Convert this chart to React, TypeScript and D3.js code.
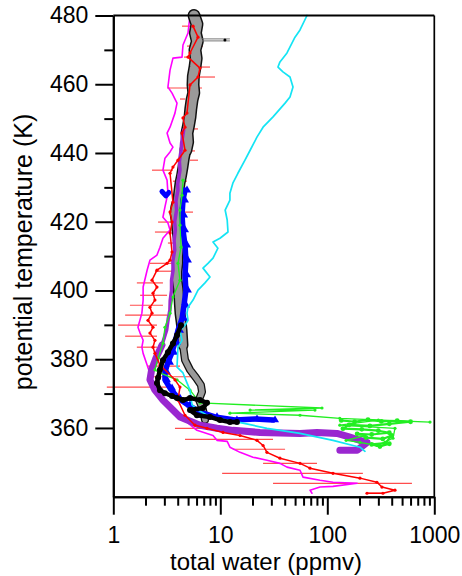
import * as d3 from "d3";
import { useEffect, useRef } from "react";

type Pt = [number, number]; // [total water ppmv, potential temperature K]
type Bar = [number, number, number]; // [low ppmv, high ppmv, K]

const xTickMajor = [1, 10, 100, 1000];
const xTickMinor = [2, 3, 4, 5, 6, 7, 8, 9, 20, 30, 40, 50, 60, 70, 80, 90, 200, 300, 400, 500, 600, 700, 800, 900];
const yTickMajor = [360, 380, 400, 420, 440, 460, 480];
const yTickMinor = [370, 390, 410, 430, 450, 470];

const magenta: Pt[] = [
  [5.21, 480], [4.99, 474.9], [4.48, 471.4], [4.39, 467.9], [3.61, 467.6], [3.39, 464.1],
  [3.24, 459.2], [3.54, 457.4], [3.94, 454.5], [3.77, 451.6], [3.39, 447.5], [3.18, 445.8],
  [3.39, 442.9], [3.61, 441.7], [3.39, 440.3], [3.04, 438.5], [2.91, 435.0], [3.18, 432.1],
  [3.24, 428.3], [3.04, 424.3], [2.91, 421.3], [3.24, 419.6], [3.39, 417.6], [2.91, 415.2],
  [2.73, 412.6], [2.56, 410.3], [2.2, 408.8], [2.07, 405.9], [1.9, 401.0], [1.9, 397.2],
  [1.85, 393.4], [1.7, 389.3], [1.78, 387.6], [1.9, 385.5], [1.85, 383.5], [1.9, 381.7],
  [2.07, 378.3], [2.3, 374.0], [2.73, 369.6], [3.77, 365.2], [4.68, 363.2], [4.99, 361.4],
  [6.05, 359.3], [8.55, 357.8], [9.31, 356.4], [11.6, 356.1], [12.3, 354.4], [15.3, 352.9],
  [20.2, 351.5], [27.3, 350.6], [36.1, 349.7], [42, 348.6], [55.6, 347.7], [59.3, 345.7],
  [85.5, 344.8], [113, 344.2], [190, 343.9], [113, 343.0], [85.5, 342.8], [68.9, 341.9], [71.9, 341.0],
];

const red: Pt[] = [
  [5.56, 476.9], [6.19, 473.7], [5.21, 469.1], [4.99, 467.9], [6.46, 464.7], [6.19, 462.1],
  [5.21, 459.8], [4.88, 451.6], [4.48, 450.2], [4.68, 447.5], [4.39, 445.8], [4.68, 440.8],
  [4.02, 437.9], [3.61, 435.9], [3.39, 434.1], [3.61, 425.7], [3.39, 422.8], [3.54, 419.9],
  [3.39, 416.7], [3.54, 411.2], [3.39, 408.8], [3.18, 407.9], [2.56, 405.9], [2.3, 403.0],
  [2.56, 401.0], [2.35, 399.2], [2.45, 397.2], [2.2, 395.1], [2.3, 393.4], [2.11, 391.3],
  [2.35, 389.3], [2.2, 387.6], [2.45, 385.5], [2.35, 383.5], [2.45, 381.7], [2.73, 378.3],
  [3.77, 374.0], [4.2, 371.9], [4.02, 368.1], [4.68, 363.7], [5.8, 360.8], [7.51, 359.9],
  [10.6, 358.7], [15.3, 357.8], [22, 356.4], [25.1, 354.9], [27.3, 352.9], [36.1, 351.2],
  [55.6, 349.7], [68.9, 348.3], [113, 346.8], [202, 345.4], [291, 344.2], [324, 342.8],
  [429, 341.9], [331, 341.0], [235, 341.0],
];

const redErrorBars: Bar[] = [
  [4.39, 5.56, 476.9], [4.88, 6.89, 471.1], [4.58, 5.8, 467.9], [6.46, 8.01, 465.0],
  [5.21, 8.92, 462.1], [3.18, 6.75, 458.9], [4.2, 4.68, 455.7], [4.39, 6.19, 447.0],
  [4.99, 5.8, 440.6], [5.21, 6.19, 437.9], [2.3, 3.61, 435.0], [3.61, 4.88, 431.8],
  [4.2, 5.56, 422.8], [2.62, 3.77, 419.9], [2.45, 3.39, 417.0], [3.24, 4.02, 413.8],
  [2.2, 3.94, 407.9], [2.45, 3.61, 405.6], [1.66, 2.91, 402.2], [1.78, 3.18, 398.6],
  [1.43, 2.91, 395.7], [1.29, 3.18, 392.8], [1.11, 2.56, 389.9], [1.29, 2.56, 386.7],
  [1.66, 2.56, 383.5], [2.07, 4.2, 378.0], [2.2, 6.46, 374.9], [0.87, 3.61, 371.9],
  [3.77, 8.55, 359.9], [4.68, 31.1, 356.7], [13.1, 40.3, 353.8], [25.1, 80.1, 349.7],
  [10.4, 215, 346.8], [31.1, 618, 343.9], [235, 331, 341.0],
];

const cyan: Pt[] = [
  [64.6, 480], [55.6, 475.8], [49.9, 473.7], [42, 469.1], [36.1, 466.5], [34.6, 465],
  [38.5, 463.6], [44.8, 462.1], [47.8, 459.2], [44.8, 456.3], [40.3, 454.5], [31.1, 450.5],
  [25.1, 447.5], [22, 444.6], [19, 440.8], [17, 437.9], [14.6, 434.1], [13.1, 431.2],
  [12.3, 428.3], [12.3, 426.3], [11.1, 423.4], [11.6, 420.5], [11.8, 417], [9.93, 415.2],
  [8.55, 414.1], [9.5, 412.3], [8.55, 409.4], [7.67, 407.9], [6.89, 406.5], [8.01, 403.9],
  [7.19, 402.2], [6.19, 400.1], [5.56, 397.2], [4.99, 395.1], [4.88, 393.4], [4.99, 391.3],
  [4.68, 389.9], [4.2, 388.4], [4.39, 385.5], [4.02, 383.5], [3.94, 377.7], [4.48, 376],
  [4.88, 373.1], [5.21, 371], [5.44, 366.7], [6.19, 365.2], [8.01, 363.2], [11.6, 362.3],
  [16.3, 361.4], [27.3, 359.9], [55.6, 358.4], [113, 356.4], [202, 354.4], [225, 353.2],
];

const grayTop: Pt[] = [
  [5.68, 480], [6.05, 477.5], [5.85, 474.9], [6.1, 472.5], [5.8, 470], [5.95, 467.5],
  [5.8, 465], [5.6, 462.3], [5.56, 459.8], [5.65, 457.5], [5.44, 455.4], [5.3, 452.8],
  [5.21, 450.5], [5.05, 448], [4.88, 445.8], [4.95, 443.2], [4.77, 440.8],
];
const grayMid: Pt[] = [
  [4.77, 440.8], [4.6, 438.3], [4.48, 435.9], [4.35, 433.5], [4.2, 431.2], [4.1, 428.7],
  [4.02, 426.3], [3.85, 424.4], [3.77, 422.5], [3.88, 420], [3.94, 417.6], [4.05, 415],
  [4.11, 412.6], [4.02, 410.2], [4.02, 408], [3.94, 405.5], [3.94, 403], [4.05, 400.5],
  [4.11, 398.1], [4.15, 395.8], [4.2, 393.4], [4.3, 391], [4.39, 388.5], [4.48, 384.1],
];
const grayLower: Pt[] = [
  [4.48, 384.1], [4.68, 379.8], [5.21, 376.9], [5.93, 374.6], [6.59, 372.5], [6.75, 370.5],
  [6.32, 368.2], [6.89, 365.3], [7.19, 362.4],
];
const grayArrow: Bar[] = [[6.75, 12.3, 472.9]];

const blue: Pt[] = [
  [4.68, 429.2], [4.48, 426.3], [4.39, 421.9], [4.48, 417.6], [4.68, 413.2], [4.77, 408.8],
  [4.68, 404.5], [4.77, 400.1], [4.58, 395.7], [4.39, 391.9], [4.02, 388.4], [3.77, 384.9],
  [3.54, 382], [3.24, 379.1], [3.04, 376.2], [3.04, 374], [3.39, 371.6], [4.02, 368.7],
  [4.99, 366.7], [6.46, 364.6], [8.92, 363.2], [13.7, 362.3], [21.1, 362.6], [31.1, 362.3],
];
const blueBlob: Pt[] = [[2.85, 428.8], [3.1, 427.5], [3.3, 428.5]];

const purpleUpper: Pt[] = [
  [4.55, 446.7], [4.35, 443], [4.3, 440.8], [4.15, 437.5], [4.2, 435], [4.0, 431],
  [4.02, 429.2], [3.85, 426], [3.9, 423.4], [3.75, 420], [3.8, 417.6], [3.7, 414.5],
  [3.75, 411.8], [3.6, 408.5], [3.62, 405.9], [3.5, 403], [3.5, 400.1], [3.4, 397],
  [3.38, 394.3], [3.25, 391.5], [3.15, 388.4], [2.85, 384.1],
];
const purpleLower: Pt[] = [
  [2.85, 384.1], [2.5, 380.3], [2.28, 376.9], [2.2, 374], [2.45, 371], [2.91, 368.1],
  [3.61, 365.2], [4.2, 363.2], [6.46, 360.8], [9.31, 359.9], [13.1, 359.3], [23.5, 358.7],
  [55.6, 358.4], [80.1, 358.7], [123, 358.4], [163, 357.3], [202, 356.4], [235, 355.8],
  [190, 353.5], [131, 353.5],
];

const green: Pt[] = [
  [4.48, 432.1], [4.39, 427.7], [4.2, 423.4], [4.2, 419], [4.3, 412.6], [4.02, 407.9],
  [4.2, 403], [3.61, 398.1], [3.39, 393.4], [3.04, 389.3], [2.91, 384.6], [2.62, 380.3],
  [2.45, 376.9], [2.73, 376], [3.94, 374], [5.21, 371], [6.46, 367.3], [89.2, 365.8],
  [19, 365.2], [76.7, 365.2], [12.3, 364.3], [55.6, 363.7], [131, 362.8], [912, 361.7],
  [300, 362.3], [131, 360.8], [429, 359.9], [411, 357], [291, 354.9], [202, 355.8],
  [150, 356.4], [225, 357.8],
];
const greenCluster: Pt[] = [
  [135, 362.2], [180, 361.8], [240, 362.4], [320, 361.9], [450, 362.1], [600, 361.8],
  [380, 361.2], [250, 360.6], [160, 360.9], [140, 359.8], [210, 359.6], [300, 359.2],
  [380, 358.6], [260, 358.1], [190, 358.3], [230, 357.2], [330, 356.8], [400, 357.8],
  [350, 355.6], [260, 355.2], [310, 354.6], [380, 355.4],
];

const black: Pt[] = [
  [4.3, 389.9], [3.94, 387], [3.61, 384.6], [3.24, 382], [2.91, 379.7], [2.73, 376.9],
  [2.62, 374.6], [2.56, 373.1], [2.73, 371], [3.04, 370.1], [3.54, 369.3], [3.94, 368.7],
  [4.48, 368.1], [5.21, 368.7], [6.46, 368.1], [7.51, 367.3], [6.89, 365.8], [5.21, 365.2],
  [6.05, 363.7], [8.01, 363.2], [9.93, 362.3], [12.3, 361.7], [14.3, 361.7],
];

const App = () => {
  const width = 462;
  const height = 576;
  const svgRef = useRef<SVGSVGElement>(null);

  useEffect(() => {
    if (!svgRef.current) return;
    const svg = d3.select(svgRef.current);
    svg.selectAll("*").remove();

    const left = 113.3;
    const right = 434.3;
    const top = 15.5;
    const bottom = 496.7;
    const font = "'Liberation Sans', Arial, sans-serif";

    const x = d3.scaleLog().domain([1, 1000]).range([left, right]);
    const y = d3.scaleLinear().domain([340, 480]).range([bottom, top]);
    const line = d3
      .line<Pt>()
      .x((d) => x(d[0]))
      .y((d) => y(d[1]));

    const plot = svg.append("g");

    const path = (data: Pt[], color: string, w: number) =>
      plot
        .append("path")
        .datum(data)
        .attr("d", line)
        .attr("fill", "none")
        .attr("stroke", color)
        .attr("stroke-width", w)
        .attr("stroke-linejoin", "round")
        .attr("stroke-linecap", "round");

    const dots = (data: Pt[], color: string, r: number) =>
      plot
        .append("g")
        .selectAll("circle")
        .data(data)
        .join("circle")
        .attr("cx", (d) => x(d[0]))
        .attr("cy", (d) => y(d[1]))
        .attr("r", r)
        .attr("fill", color);

    // red error bars
    plot
      .append("g")
      .selectAll("line")
      .data(redErrorBars)
      .join("line")
      .attr("x1", (d) => x(d[0]))
      .attr("x2", (d) => x(d[1]))
      .attr("y1", (d) => y(d[2]))
      .attr("y2", (d) => y(d[2]))
      .attr("stroke", "#ff4d4d")
      .attr("stroke-width", 1.2);

    path(magenta, "#ff00ff", 1.6);

    // gray band with black edge
    path(grayTop, "#111", 13);
    path(grayMid, "#111", 11);
    path(grayLower, "#111", 8);
    path(grayTop, "#9a9a9a", 10);
    path(grayMid, "#9a9a9a", 8);
    path(grayLower, "#9a9a9a", 5.5);

    path(purpleUpper, "#9a27d0", 3.5);
    path(purpleLower, "#9a27d0", 7);

    path(blue, "#0000ff", 5.5);
    path(blueBlob, "#0000ff", 5);
    plot
      .append("g")
      .selectAll("path")
      .data(blue)
      .join("path")
      .attr("transform", (d) => `translate(${x(d[0]) + 2},${y(d[1])})`)
      .attr("d", d3.symbol(d3.symbolTriangle, 28))
      .attr("fill", "#0000ff");

    path(green, "#22ee22", 1.3);
    path(greenCluster, "#22ee22", 2.2);
    dots(green, "#22ee22", 1.6);
    dots(greenCluster, "#22ee22", 2.4);

    path(cyan, "#14e4f4", 1.7);

    path(red, "#ff0000", 1.5);
    dots(red, "#ff0000", 1.6);

    path(black, "#000", 4.5);
    dots(black, "#000", 3);

    // gray arrow bar near the top
    const ga = plot.append("g").selectAll("g").data(grayArrow).join("g");
    [-1, 1].forEach((o) =>
      ga
        .append("line")
        .attr("x1", (d) => x(d[0]))
        .attr("x2", (d) => x(d[1]))
        .attr("y1", (d) => y(d[2]) + o)
        .attr("y2", (d) => y(d[2]) + o)
        .attr("stroke", "#777")
        .attr("stroke-width", 1)
    );
    ga.append("circle")
      .attr("cx", (d) => x(d[1]) - 5)
      .attr("cy", (d) => y(d[2]))
      .attr("r", 1.5)
      .attr("fill", "#000");

    // axes
    const axes = svg.append("g");
    const yMajor = axes
      .append("g")
      .attr("transform", `translate(${left},0)`)
      .call(d3.axisLeft(y).tickValues(yTickMajor).tickSize(18).tickSizeOuter(0).tickPadding(7).tickFormat(d3.format("d")));
    axes
      .append("g")
      .attr("transform", `translate(${left},0)`)
      .call(d3.axisLeft(y).tickValues(yTickMinor).tickSize(9).tickSizeOuter(0).tickFormat(() => ""));
    const xMajor = axes
      .append("g")
      .attr("transform", `translate(0,${bottom})`)
      .call(d3.axisBottom(x).tickValues(xTickMajor).tickSize(18).tickSizeOuter(0).tickPadding(12).tickFormat(d3.format("d")));
    axes
      .append("g")
      .attr("transform", `translate(0,${bottom})`)
      .call(d3.axisBottom(x).tickValues(xTickMinor).tickSize(9).tickSizeOuter(0).tickFormat(() => ""));

    axes.selectAll("line, path").attr("stroke", "#000").attr("stroke-width", 2);
    [yMajor, xMajor].forEach((g) =>
      g.selectAll("text").attr("font-family", font).attr("font-size", 23).attr("fill", "#000")
    );

    axes
      .append("line")
      .attr("x1", left)
      .attr("x2", right)
      .attr("y1", top)
      .attr("y2", top)
      .attr("stroke", "#000")
      .attr("stroke-width", 2);
    axes
      .append("line")
      .attr("x1", right)
      .attr("x2", right)
      .attr("y1", top)
      .attr("y2", bottom)
      .attr("stroke", "#000")
      .attr("stroke-width", 1.7);

    svg
      .append("text")
      .attr("x", 266)
      .attr("y", 570)
      .attr("text-anchor", "middle")
      .attr("font-family", font)
      .attr("font-size", 24)
      .text("total water (ppmv)");

    svg
      .append("text")
      .attr("transform", "translate(32,252) rotate(-90)")
      .attr("text-anchor", "middle")
      .attr("font-family", font)
      .attr("font-size", 25)
      .text("potential temperature (K)");
  }, []);

  return (
    <svg
      width={width}
      height={height}
      ref={svgRef}
      style={{ position: "absolute", left: 0, top: 0, background: "white" }}
    ></svg>
  );
};

export default App;
